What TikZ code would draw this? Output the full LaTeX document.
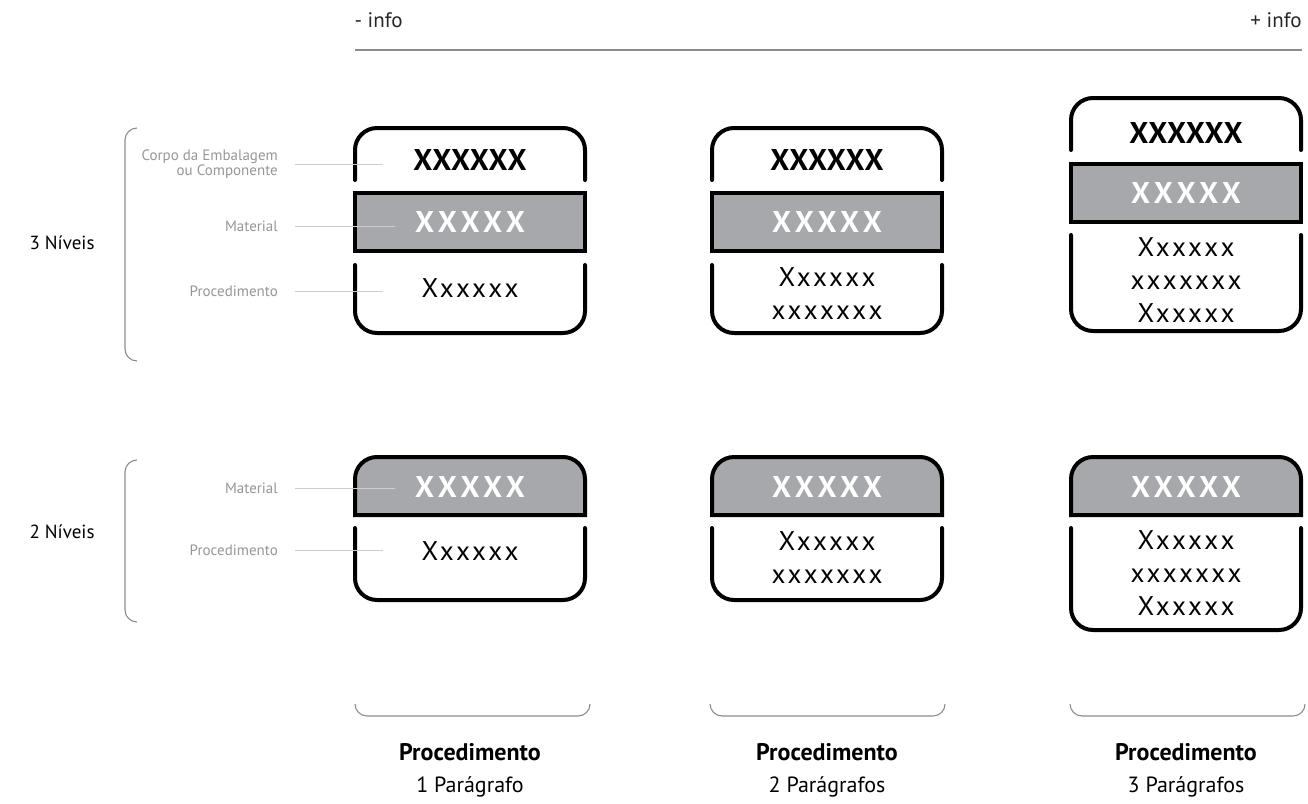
\documentclass[tikz,border=0pt]{standalone}
\usepackage{fontspec}
\setmainfont{PT Sans}
\definecolor{matgray}{RGB}{167,168,172}
\definecolor{lblgray}{RGB}{150,150,150}
\definecolor{leadgray}{RGB}{205,205,205}
\definecolor{brkgray}{RGB}{140,140,140}

\begin{document}
\begin{tikzpicture}[x=1pt,y=-1pt,
  frame/.style={line width=4pt,line cap=round,rounded corners=22pt},
  matbox/.style={line width=4pt,fill=matgray},
  bigtxt/.style={font=\fontsize{30}{32}\selectfont\bfseries\addfontfeature{LetterSpace=3}},
  mattxt/.style={font=\fontsize{30}{32}\selectfont\bfseries\addfontfeature{LetterSpace=16},text=white},
  proctxt/.style={font=\fontsize{27}{33}\selectfont\addfontfeature{LetterSpace=10},align=center},
  lbl/.style={text=lblgray,font=\fontsize{15}{15}\selectfont,align=right,anchor=east,inner sep=0pt},
  leader/.style={leadgray,line width=1pt},
  brk/.style={brkgray,line width=1.1pt,rounded corners=12pt},
  lvl/.style={font=\fontsize{19}{22}\selectfont},
  info/.style={font=\fontsize{21}{22}\selectfont,text=black!85},
  proc/.style={font=\fontsize{24}{26}\selectfont\bfseries},
  parag/.style={font=\fontsize{22}{24}\selectfont}]
\useasboundingbox (0,0) rectangle (1308,803);

% scale of information
\node[info,anchor=west] (less) at (351,20) {- info};
\node[info,anchor=east] (more) at (1305,20) {+ info};
\coordinate (axl) at (355,50);
\coordinate (axr) at (1302,50);
\draw[brkgray,line width=1.2pt] (axl) -- (axr);

% 3 levels
\foreach \l/\t/\b in {355/128/180,712/128/180,1071/98/150}
   \draw[frame] (\l,\b) -- (\l,\t) -- (\l+230,\t) -- (\l+230,\b);
\foreach \l/\t in {355/193,712/193,1071/164}
   \draw[matbox] (\l,\t) rectangle +(230,58);
\foreach \l/\t/\b in {355/265/333,712/265/333,1071/235/331}
   \draw[frame] (\l,\t) -- (\l,\b) -- (\l+230,\b) -- (\l+230,\t);

% 2 levels
\foreach \l in {355,712,1071}
   \draw[matbox] (\l,515) -- (\l,479) arc(180:270:22) -- (\l+208,457)
      arc(270:360:22) -- (\l+230,515) -- cycle;
\foreach \l/\b in {355/600,712/600,1071/630}
   \draw[frame] (\l,528) -- (\l,\b) -- (\l+230,\b) -- (\l+230,528);

% texts in the boxes
\node[bigtxt] (corpoA) at (470,160) {XXXXXX};
\node[bigtxt] (corpoB) at (827,160) {XXXXXX};
\node[bigtxt] (corpoC) at (1186,133) {XXXXXX};
\node[mattxt] (matA) at (470,222) {XXXXX};
\node[mattxt] (matB) at (827,222) {XXXXX};
\node[mattxt] (matC) at (1186,193) {XXXXX};
\node[proctxt] (procA) at (470,288) {Xxxxxx};
\node[proctxt] (procB) at (827,294) {Xxxxxx\\xxxxxxx};
\node[proctxt] (procC) at (1186,280) {Xxxxxx\\xxxxxxx\\Xxxxxx};
\foreach \c/\n in {470/A,827/B,1186/C}
   \node[mattxt] (mat2\n) at (\c,487) {XXXXX};
\node[proctxt] (proc2A) at (470,551) {Xxxxxx};
\node[proctxt] (proc2B) at (827,558) {Xxxxxx\\xxxxxxx};
\node[proctxt] (proc2C) at (1186,573) {Xxxxxx\\xxxxxxx\\Xxxxxx};

% labels
\node[lbl] (lcorpo) at (278,164) {Corpo da Embalagem\\ou Componente};
\node[lbl] (lmat) at (278,226) {Material};
\node[lbl] (lproc) at (278,291) {Procedimento};
\node[lbl] (lmat2) at (278,488) {Material};
\node[lbl] (lproc2) at (278,550) {Procedimento};
\coordinate (ecorpo) at (383,164);
\coordinate (emat) at (395,226);
\coordinate (eproc) at (383,291);
\coordinate (emat2) at (395,488);
\coordinate (eproc2) at (383,550);
\foreach \n in {corpo,mat,proc,mat2,proc2}
   \draw[leader] ([xshift=17pt]l\n.east) -- (e\n);

% levels
\draw[brk] (137,128) -- (125,128) -- (125,361) -- (137,361);
\draw[brk] (137,460) -- (125,460) -- (125,622) -- (137,622);
\node[lvl] (niv3) at (62,243) {3 Níveis};
\node[lvl] (niv2) at (62,532) {2 Níveis};

% paragraphs
\foreach \l in {355,710,1070}
   \draw[brk] (\l,704) -- (\l,716) -- (\l+235,716) -- (\l+235,704);
\foreach \c/\n/\t in {470/1/1 Parágrafo,827/2/2 Parágrafos,1186/3/3 Parágrafos}{
   \node[proc] (head\n) at (\c,752) {Procedimento};
   \node[parag] (par\n) at (\c,787) {\t};
}
\end{tikzpicture}
\end{document}
